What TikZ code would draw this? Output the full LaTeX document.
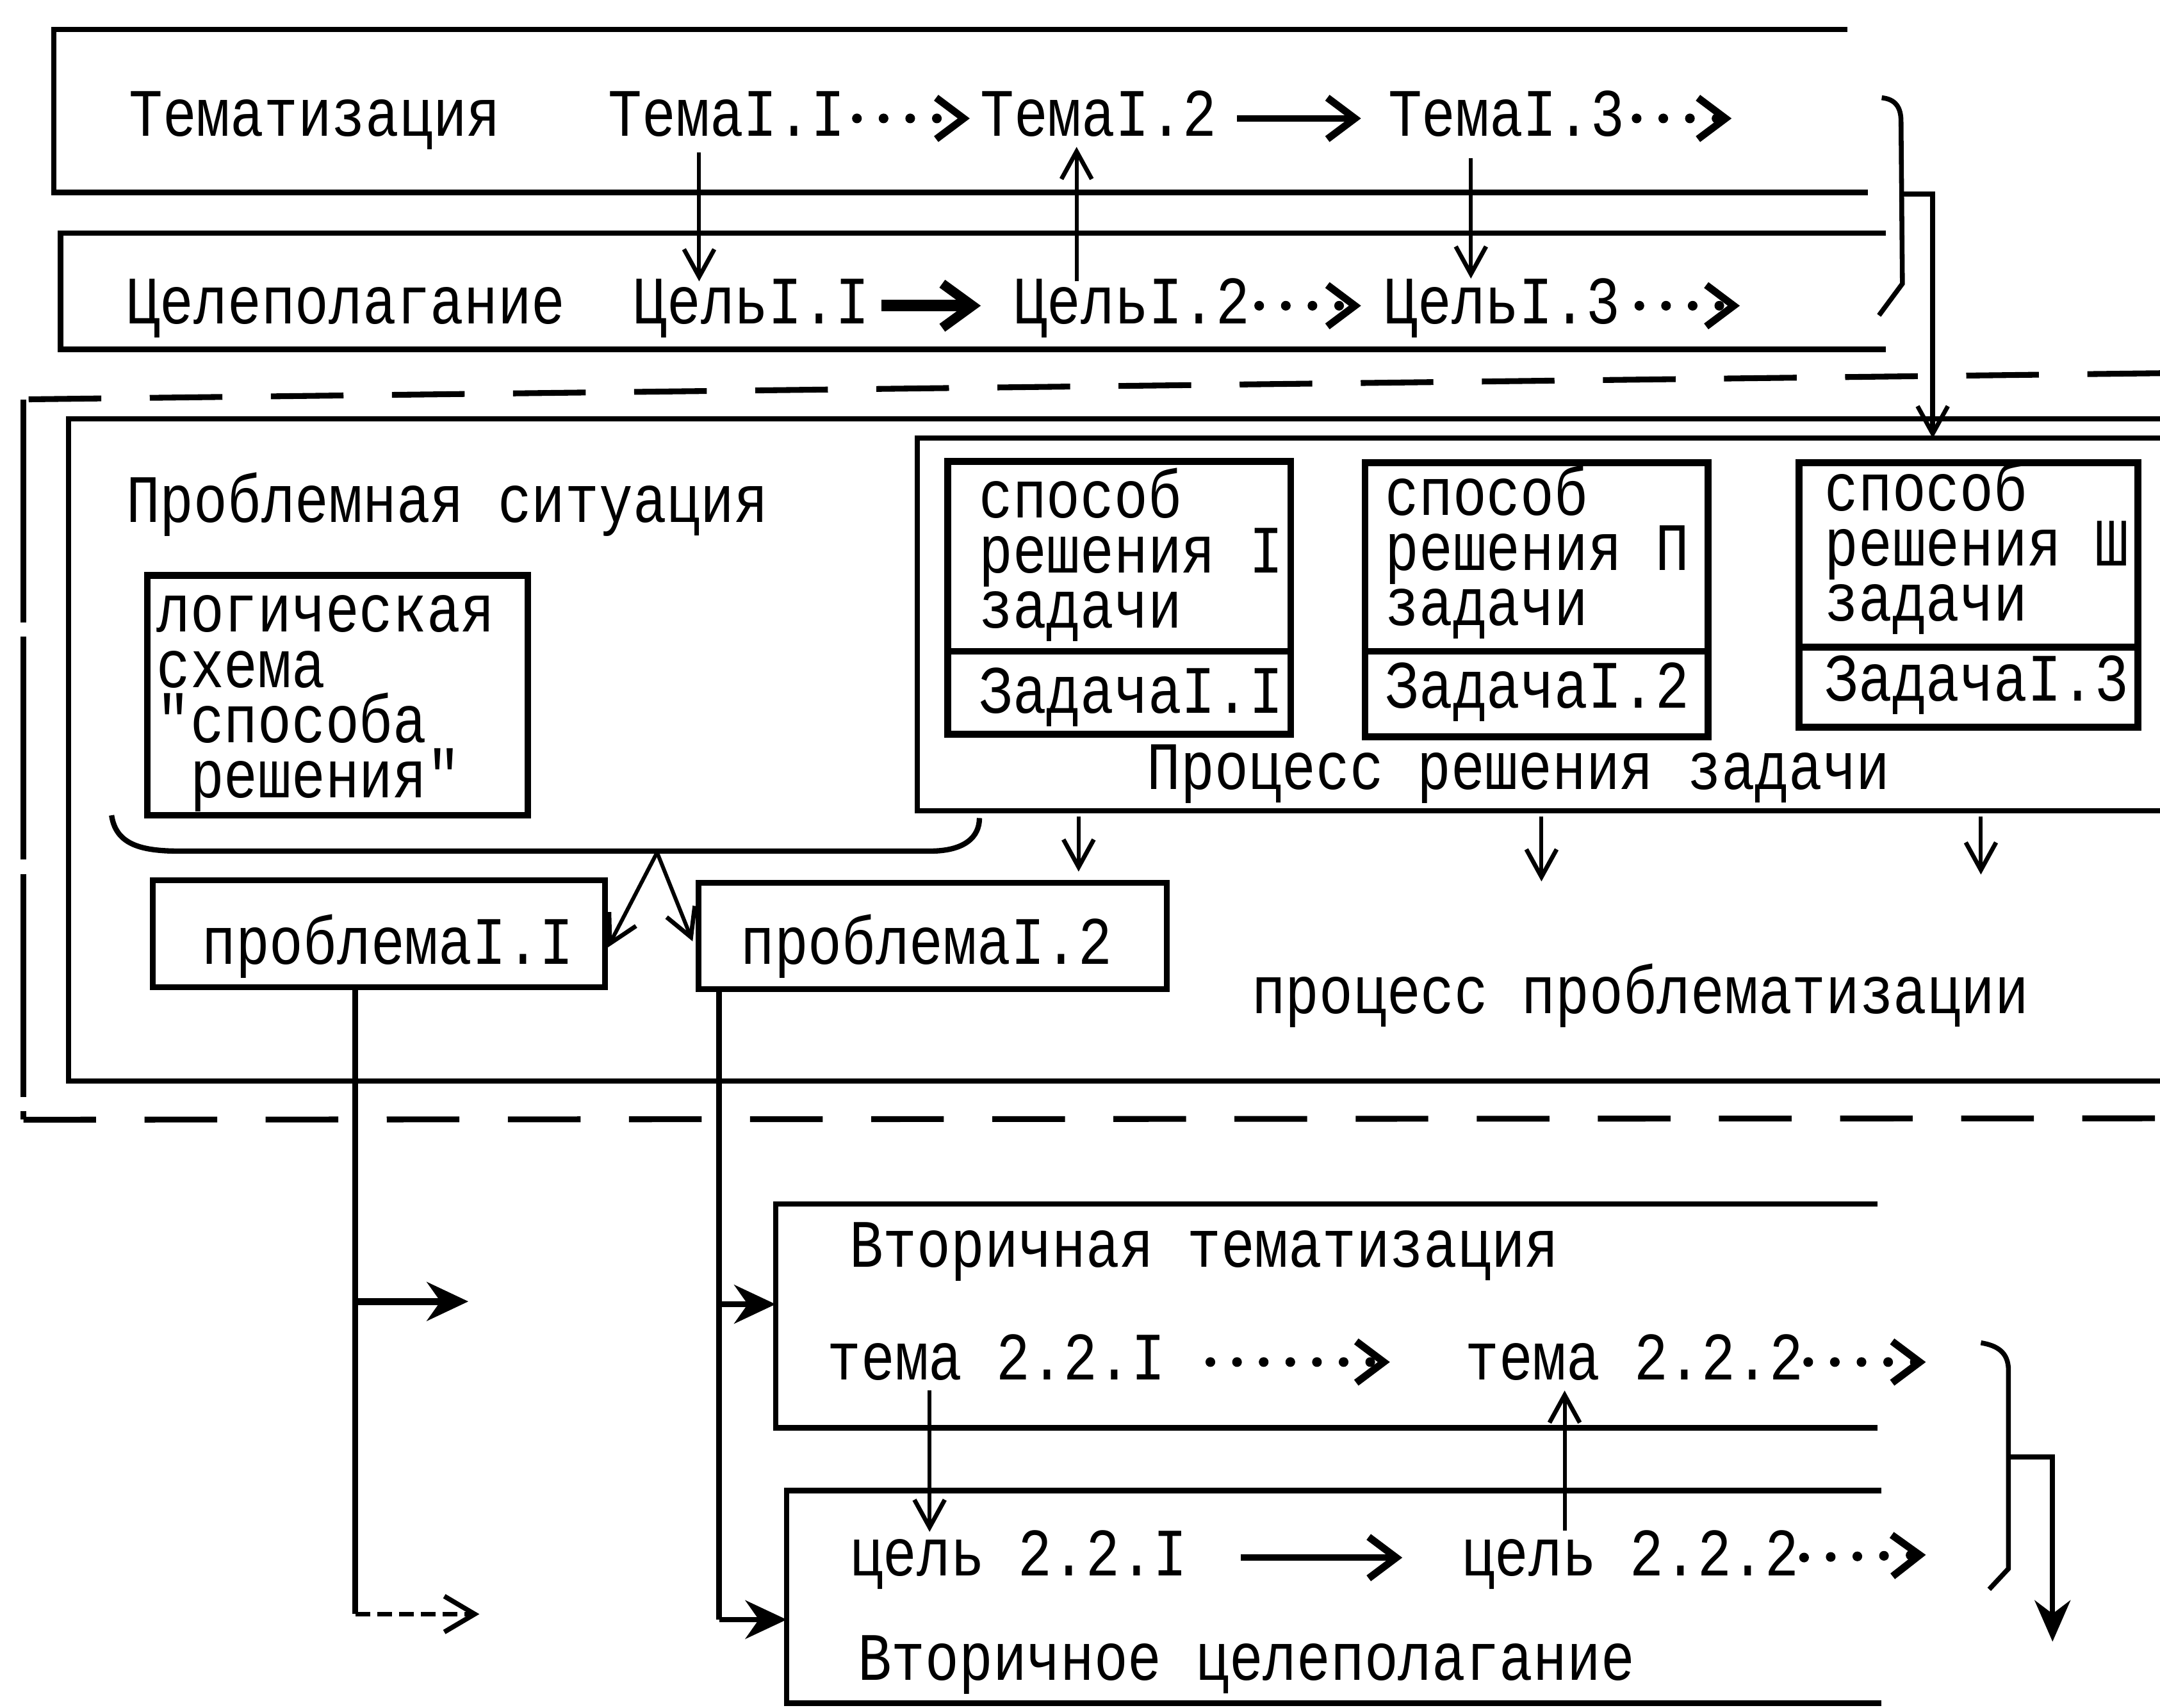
\documentclass[tikz,border=0pt]{standalone}
\usepackage{fontspec}
\newfontfamily\tw[FakeStretch=0.83]{Liberation Mono}
\usetikzlibrary{arrows.meta,calc}
\begin{document}
\begin{tikzpicture}[x=0.01cm, y=-0.01cm,
  tx/.style={font=\tw\fontsize{14}{14}\selectfont, inner sep=0pt, text height=0.26cm, text depth=0pt, anchor=base west},
  mtx/.style={font=\tw\fontsize{14}{11.38}\selectfont, inner sep=0pt, align=left, anchor=base west},
  obx/.style={inner sep=0pt},
  bx/.style={draw, line width=1.4pt, inner sep=0pt},
  ln/.style={line width=1.1pt},
  tarr/.style={line width=1.3pt, -{Straight Barb[length=0.2cm,width=0.3cm,line width=1.5pt]}},
  barr/.style={line width=2.4pt, -{Straight Barb[length=0.22cm,width=0.32cm,line width=2pt]}},
  darr/.style={line width=2pt, line cap=round, dash pattern=on 0pt off 5.5pt, -{Straight Barb[length=0.2cm,width=0.3cm,line width=1.5pt]}},
  varr/.style={line width=0.8pt, -{Straight Barb[length=0.2cm,width=0.22cm,line width=0.9pt]}},
  sarr/.style={line width=1.3pt, -{Stealth[length=0.3cm,width=0.28cm]}},
  dsharr/.style={line width=0.9pt, dash pattern=on 3pt off 1.5pt, -{Straight Barb[length=0.22cm,width=0.26cm,line width=1pt]}}
]
\useasboundingbox[fill=white] (0,0) rectangle (1568,1240);

% ---------- top: thematization ----------
\node[obx, minimum width=13cm, minimum height=1.17cm] (T) at (690,80.5) {};
\draw[ln] (T.north east) -- (T.north west) -- (T.south west) -- ($(T.south east)+(15,0)$);
\node[tx] (tlab) at (93,99) {Тематизация};
\node[tx] (t11) at (441,99) {ТемаI.I};
\node[tx] (t12) at (711,99) {ТемаI.2};
\node[tx] (t13) at (1007,99) {ТемаI.3};
\coordinate (f13) at (1257,86);
\draw[darr, shorten <=0.08cm, shorten >=0.07cm] (t11.east) -- (t12.west);
\draw[tarr, shorten <=0.14cm, shorten >=0.19cm] (t12.east) -- (t13.west);
\draw[darr, shorten <=0.08cm] (t13.east) -- (f13);

% ---------- goal setting ----------
\node[obx, minimum width=13.23cm, minimum height=0.83cm] (C) at (706.5,211.5) {};
\draw[ln] (C.north east) -- (C.north west) -- (C.south west) -- (C.south east);
\node[tx] (clab) at (91,235) {Целеполагание};
\node[tx] (c11) at (459,235) {ЦельI.I};
\node[tx] (c12) at (735,235) {ЦельI.2};
\node[tx] (c13) at (1004,235) {ЦельI.3};
\coordinate (f23) at (1263,222);
\draw[barr, shorten <=0.08cm, shorten >=0.23cm] (c11.east) -- (c12.west);
\draw[darr, shorten <=0.06cm, shorten >=0.16cm] (c12.east) -- (c13.west);
\draw[darr, shorten <=0.13cm] (c13.east) -- (f23);

\draw[varr] ($(t11.south)+(-20,11)$) -- ($(c11.north)+(-38,-4)$);
\draw[varr] ($(c12.north)+(-40,-4)$) -- ($(t12.south)+(-16,7)$);
\draw[varr] ($(t13.south)+(-25.75,15)$) -- ($(c13.north)+(-22.75,-6)$);

% bracket 1
\draw[line width=1pt] (1366,71) .. controls (1376,72) and (1380,78) .. (1380,88) -- (1381,206) -- (1364,229);
\coordinate (b1) at (1380,141);
\coordinate (b1c) at (1403,141);

% ---------- outer dashed frame ----------
\draw[line width=1.2pt, dash pattern=on 15pt off 10pt] (1568,271) -- (17,290);
\draw[line width=1.2pt, dash pattern=on 46pt off 3pt] (17,290) -- (17,813);
\draw[line width=1.2pt, dash pattern=on 15pt off 10pt] (17,813) -- (1568,812);

% ---------- problem situation box ----------
\node[obx, minimum width=15.17cm, minimum height=4.79cm] (P) at (809.5,544.5) {};
\draw[ln] (P.north east) -- (P.north west) -- (P.south west) -- (P.south east);
\node[tx] (plab) at (91,379) {Проблемная ситуация};

% logic scheme box
\node[bx, minimum width=2.76cm, minimum height=1.74cm] (L) at (245,505) {};
\node[mtx] (ltxt) at (113,579) {логическая\\схема\\"способа\\\hphantom{"}решения"};

% process of solving
\node[obx, minimum width=9.01cm, minimum height=2.69cm] (Q) at (1117.5,453.5) {};
\draw[ln] (Q.north east) -- (Q.north west) -- (Q.south west) -- (Q.south east);
\node[tx] (qlab) at (832,573) {Процесс решения задачи};

\node[bx, minimum width=2.49cm, minimum height=1.98cm] (S1) at (812.5,434) {};
\draw[line width=1.4pt] ($(S1.west)+(0,39)$) -- ($(S1.east)+(0,39)$);
\node[mtx] (s1a) at (710,456) {способ\\решения I\\задачи};
\node[tx] (s1d) at (710,518) {ЗадачаI.I};

\node[bx, minimum width=2.49cm, minimum height=1.99cm] (S2) at (1115.5,435.5) {};
\draw[line width=1.4pt] ($(S2.west)+(0,37.5)$) -- ($(S2.east)+(0,37.5)$);
\node[mtx] (s2a) at (1005,454) {способ\\решения П\\задачи};
\node[tx] (s2d) at (1005,514) {ЗадачаI.2};

\node[bx, minimum width=2.46cm, minimum height=1.92cm] (S3) at (1429,432) {};
\draw[line width=1.4pt] ($(S3.west)+(0,38)$) -- ($(S3.east)+(0,38)$);
\node[mtx] (s3a) at (1324,451) {способ\\решения Ш\\задачи};
\node[tx] (s3d) at (1324,509) {ЗадачаI.3};

% arrow from bracket 1 into process box
\draw[varr, line width=1pt] (b1) -- (b1c) -- (Q.north -| b1c);

% problems
\node[bx, line width=1.2pt, minimum width=3.28cm, minimum height=0.78cm] (PR1) at (275,678) {};
\node[tx] (pr1t) at (146,700) {проблемаI.I};
\node[bx, line width=1.2pt, minimum width=3.40cm, minimum height=0.77cm] (PR2) at (677,679.5) {};
\node[tx] (pr2t) at (537,700) {проблемаI.2};

% brace under logic scheme
\draw[line width=1.1pt] (81,592) .. controls (84,612) and (100,618) .. (130,618) -- (675,618) .. controls (700,618) and (711,608) .. (711,594);
\coordinate (bp) at (477,619);
\draw[varr] (bp) -- ($(PR1.east)+(0,10)$);
\draw[varr] (bp) -- ($(PR2.west)+(-2,4)$);

% arrows below process box
\coordinate (q2) at (1119,640);
\coordinate (q3) at (1438,635);
\draw[varr] ($(Q.south)+(-334.5,4)$) -- ($(PR2.north)+(106,-6)$);
\draw[varr] ($(Q.south)+(1.5,4)$) -- (q2);
\draw[varr] ($(Q.south)+(320.5,4)$) -- (q3);

\node[tx] (prob) at (908,736) {процесс проблематизации};

% ---------- secondary thematization ----------
\node[obx, minimum width=7.98cm, minimum height=1.61cm] (VT) at (963,955.5) {};
\draw[ln] (VT.north east) -- (VT.north west) -- (VT.south west) -- (VT.south east);
\node[tx] (vtlab) at (616,920) {Вторичная тематизация};
\node[tx] (v1) at (600,1002) {тема 2.2.I};
\node[tx] (v2) at (1063,1002) {тема 2.2.2};
\coordinate (fv) at (1398,989);
\draw[darr, shorten <=0.32cm, shorten >=0.54cm] (v1.east) -- (v2.west);
\draw[darr, shorten <=0.03cm] (v2.east) -- (fv);

% ---------- secondary goal setting ----------
\node[obx, minimum width=7.93cm, minimum height=1.53cm] (VC) at (968.5,1159.5) {};
\draw[ln] (VC.north east) -- (VC.north west) -- (VC.south west) -- (VC.south east);
\node[tx] (g1) at (616,1144) {цель 2.2.I};
\node[tx] (g2) at (1060,1144) {цель 2.2.2};
\node[tx] (vclab) at (622,1220) {Вторичное целеполагание};
\coordinate (fc) at (1398,1129);
\draw[tarr, shorten <=0.38cm, shorten >=0.42cm] (g1.east) -- (g2.west);
\draw[darr, shorten <=0.03cm] (g2.east) -- (fc);

\draw[varr] ($(v1.south)+(-48.5,7)$) -- ($(g1.north)+(-64.5,-5)$);
\draw[varr] ($(g2.north)+(-47.5,-6)$) -- ($(v2.south)+(-50.5,7)$);

% bracket 2
\draw[line width=1pt] (1438,975) .. controls (1450,977) and (1458,982) .. (1458,995) -- (1458,1139) -- (1444,1154);
\coordinate (b2) at (1458,1058);
\coordinate (b2c) at (1490,1058);
\coordinate (b2e) at (1490,1192);
\draw[line width=1pt, -{Stealth[length=0.3cm,width=0.26cm]}] (b2) -- (b2c) -- (b2e);

% ---------- connectors from problems ----------
\coordinate (p1a) at (258,945);
\coordinate (p1b) at (258,1172);
\coordinate (f1) at (340,945);
\coordinate (f2) at (348,1172);
\draw[line width=1.2pt] (PR1.south -| p1b) -- (p1b);
\draw[sarr, line width=1.5pt] (p1a) -- (f1);
\draw[dsharr] (p1b) -- (f2);

\coordinate (p2a) at (522,947);
\coordinate (p2b) at (522,1176);
\draw[line width=1.1pt] (PR2.south -| p2b) -- (p2b);
\draw[sarr] (p2a) -- (p2a -| VT.west);
\draw[sarr, line width=1pt] (p2b) -- (p2b -| VC.west);
\end{tikzpicture}
\end{document}
